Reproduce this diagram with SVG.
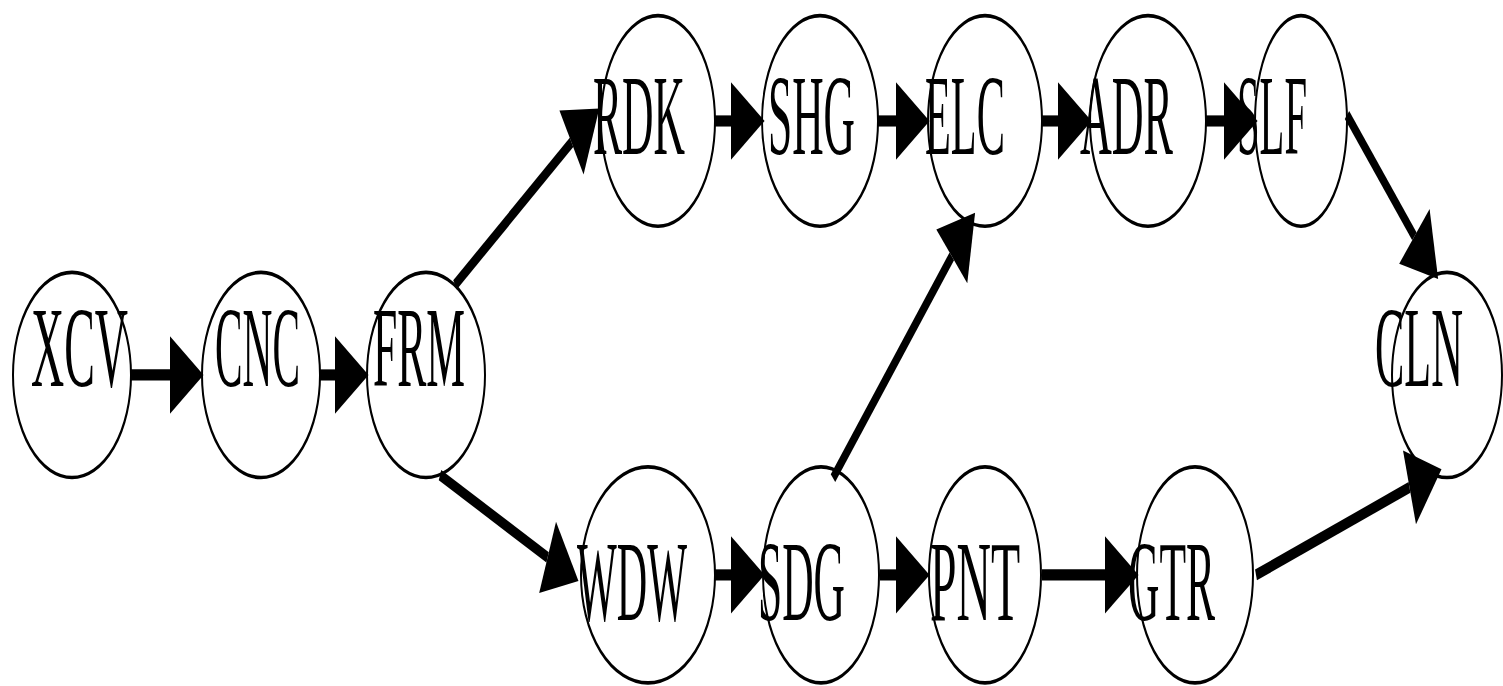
<svg xmlns="http://www.w3.org/2000/svg" width="1503" height="686" viewBox="0 0 1503 686">
<defs>
<style>
.node ellipse{fill:#fff;stroke:#000;stroke-width:2}
.node text{font-family:"Liberation Serif","Times New Roman",serif;font-size:64px;fill:#000}
#connectors line{stroke:#000;stroke-width:6.2;fill:none}
</style>
<marker id="ah" markerUnits="userSpaceOnUse" markerWidth="34" markerHeight="43" refX="0" refY="20.5" orient="auto" viewBox="0 0 32 41" overflow="visible">
<path d="M0,0 L32,20.5 L0,41 z" fill="#000"/>
</marker>
</defs>
<rect width="1503" height="686" fill="#fff"/>
<g transform="scale(1,1.8)">
<g id="node-XCV" class="node"><ellipse cx="72" cy="208.3" rx="59" ry="57"/><text x="31" y="214.4" textLength="97" lengthAdjust="spacingAndGlyphs">XCV</text></g>
<g id="node-CNC" class="node"><ellipse cx="261" cy="208.3" rx="59" ry="57"/><text x="215" y="214.4" textLength="85" lengthAdjust="spacingAndGlyphs">CNC</text></g>
<g id="node-FRM" class="node"><ellipse cx="426" cy="208.3" rx="59" ry="57"/><text x="373" y="214.4" textLength="92" lengthAdjust="spacingAndGlyphs">FRM</text></g>
<g id="node-RDK" class="node"><ellipse cx="658" cy="67.2" rx="57" ry="58.5"/><text x="593" y="85.6" textLength="92" lengthAdjust="spacingAndGlyphs">RDK</text></g>
<g id="node-SHG" class="node"><ellipse cx="820" cy="67.2" rx="58" ry="58.5"/><text x="768" y="85.6" textLength="87" lengthAdjust="spacingAndGlyphs">SHG</text></g>
<g id="node-ELC" class="node"><ellipse cx="985" cy="67.2" rx="57" ry="58.5"/><text x="925" y="85.6" textLength="80" lengthAdjust="spacingAndGlyphs">ELC</text></g>
<g id="node-ADR" class="node"><ellipse cx="1148" cy="67.2" rx="58" ry="58.5"/><text x="1080" y="85.6" textLength="93" lengthAdjust="spacingAndGlyphs">ADR</text></g>
<g id="node-SLF" class="node"><ellipse cx="1301" cy="67.2" rx="46" ry="58.5"/><text x="1237" y="85.6" textLength="70" lengthAdjust="spacingAndGlyphs">SLF</text></g>
<g id="node-CLN" class="node"><ellipse cx="1447" cy="208.3" rx="55" ry="57"/><text x="1375" y="214.4" textLength="88" lengthAdjust="spacingAndGlyphs">CLN</text></g>
<g id="node-WDW" class="node"><ellipse cx="648" cy="319.4" rx="67" ry="60"/><text x="577" y="344.4" textLength="110" lengthAdjust="spacingAndGlyphs">WDW</text></g>
<g id="node-SDG" class="node"><ellipse cx="821" cy="319.4" rx="58" ry="60"/><text x="758" y="344.4" textLength="87" lengthAdjust="spacingAndGlyphs">SDG</text></g>
<g id="node-PNT" class="node"><ellipse cx="985" cy="319.4" rx="56" ry="60"/><text x="930" y="344.4" textLength="90" lengthAdjust="spacingAndGlyphs">PNT</text></g>
<g id="node-GTR" class="node"><ellipse cx="1195" cy="319.4" rx="58" ry="60"/><text x="1128" y="344.4" textLength="87" lengthAdjust="spacingAndGlyphs">GTR</text></g>
<g id="connectors">
<line x1="131" y1="208.3" x2="170" y2="208.3" marker-end="url(#ah)"/>
<line x1="320" y1="208.3" x2="335" y2="208.3" marker-end="url(#ah)"/>
<line x1="455" y1="158.3" x2="571.5" y2="79.1" marker-end="url(#ah)"/>
<line x1="440" y1="263.9" x2="547.6" y2="309.7" marker-end="url(#ah)"/>
<line x1="715" y1="67.2" x2="731" y2="67.2" marker-end="url(#ah)"/>
<line x1="878" y1="67.2" x2="896" y2="67.2" marker-end="url(#ah)"/>
<line x1="1042" y1="67.2" x2="1058" y2="67.2" marker-end="url(#ah)"/>
<line x1="1206" y1="67.2" x2="1224" y2="67.2" marker-end="url(#ah)"/>
<line x1="1347" y1="63.9" x2="1414.4" y2="131.3" marker-end="url(#ah)"/>
<line x1="715" y1="319.4" x2="731" y2="319.4" marker-end="url(#ah)"/>
<line x1="880" y1="319.4" x2="896" y2="319.4" marker-end="url(#ah)"/>
<line x1="833" y1="265.6" x2="951.8" y2="142.4" marker-end="url(#ah)"/>
<line x1="1042" y1="319.4" x2="1105" y2="319.4" marker-end="url(#ah)"/>
<line x1="1256" y1="319.4" x2="1409.5" y2="270.8" marker-end="url(#ah)"/>
</g>
</g>
</svg>
